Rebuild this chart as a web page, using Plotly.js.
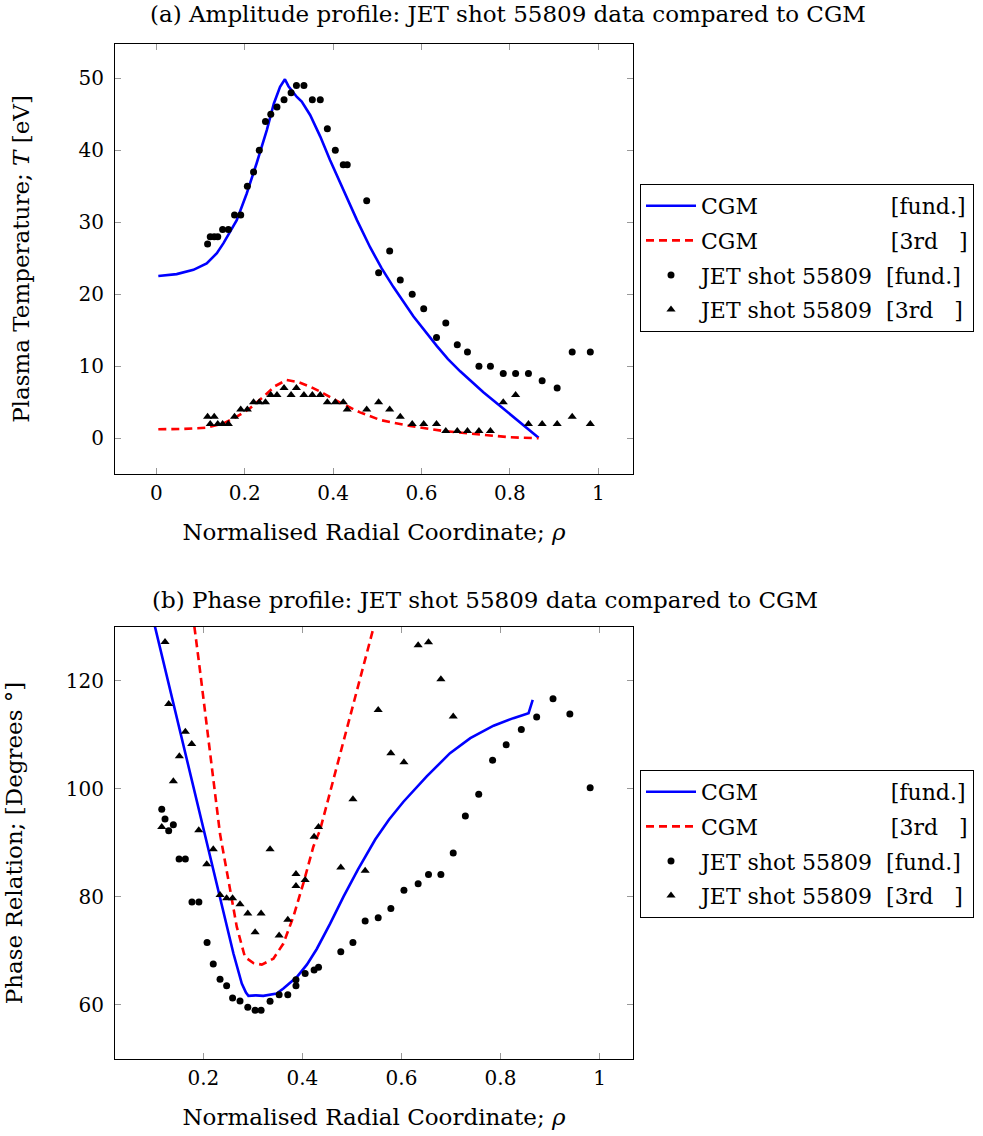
<!DOCTYPE html>
<html>
<head>
<meta charset="utf-8">
<script src="https://cdn.plot.ly/plotly-3.0.1.min.js"></script>
<style>
  html, body { margin: 0; padding: 0; background: #fff; }
  #chart { width: 983px; height: 1136px; }
</style>
</head>
<body>
<div id="chart"></div>
<script>
// ---------- (a) Amplitude profile ----------
const rhoTop = [0.116, 0.122, 0.131, 0.139, 0.150, 0.163, 0.177, 0.191, 0.206, 0.220,
  0.233, 0.247, 0.259, 0.273, 0.289, 0.305, 0.317, 0.334, 0.353, 0.371,
  0.387, 0.405, 0.423, 0.432, 0.476, 0.503, 0.528, 0.552, 0.579, 0.605,
  0.634, 0.655, 0.681, 0.704, 0.730, 0.756, 0.785, 0.813, 0.842, 0.873,
  0.907, 0.941, 0.982];
const tempFund = [27, 28, 28, 28, 29, 29, 31, 31, 35, 37,
  40, 44, 45, 46, 47, 48, 49, 49, 47, 47,
  43, 40, 38, 38, 33, 23, 26, 22, 20, 18,
  14, 16, 13, 12, 10, 10, 9, 9, 9, 8,
  7, 12, 12];
const temp3rd = [3, 2, 3, 2, 2, 2, 3, 4, 4, 5,
  5, 5, 6, 6, 7, 6, 7, 6, 6, 6,
  5, 5, 5, 4, 4, 5, 4, 3, 2, 2,
  2, 1, 1, 1, 1, 1, 5, 6, 2, 2,
  2, 3, 2];
const cgmAmpFundX = [0.0045, 0.046, 0.084, 0.114, 0.137, 0.152, 0.182, 0.2046, 0.227, 0.25,
  0.266, 0.280, 0.291, 0.299, 0.318, 0.329, 0.348, 0.371, 0.393, 0.423,
  0.454, 0.484, 0.51, 0.5366, 0.582, 0.635, 0.66, 0.6876, 0.714, 0.740,
  0.7856, 0.823, 0.865];
const cgmAmpFundY = [22.54, 22.8, 23.4, 24.3, 25.7, 27.1, 30.3, 34.0, 38.2, 42.8,
  46.5, 48.8, 49.86, 48.9, 47.4, 46.75, 44.9, 41.9, 38.65, 34.5,
  30.3, 26.5, 23.6, 21.0, 16.9, 12.8, 11.0, 9.3, 7.8, 6.4,
  4.1, 2.2, 0.08];
const cgmAmp3X = [0.0045, 0.06, 0.114, 0.152, 0.182, 0.212, 0.2425, 0.269, 0.295, 0.3215,
  0.348, 0.378, 0.416, 0.461, 0.5066, 0.5744, 0.65, 0.725, 0.80, 0.865];
const cgmAmp3Y = [1.25, 1.3, 1.47, 2.08, 3.0, 4.17, 5.78, 7.26, 8.1, 7.8,
  7.17, 6.25, 4.95, 3.6, 2.54, 1.71, 1.01, 0.55, 0.14, 0.0];

// ---------- (b) Phase profile ----------
const rhoPhaseFund = [0.116, 0.1226, 0.130, 0.1394, 0.151, 0.1636, 0.177, 0.191, 0.2075, 0.220,
  0.2337, 0.247, 0.259, 0.274, 0.2897, 0.3045, 0.3166, 0.3347, 0.353, 0.3705,
  0.387, 0.387, 0.4055, 0.4236, 0.4325, 0.4775, 0.502, 0.5267, 0.553, 0.5786,
  0.605, 0.6337, 0.6546, 0.6796, 0.7045, 0.729, 0.756, 0.784, 0.8115, 0.842,
  0.873, 0.906, 0.940, 0.981];
const phaseFund = [96.2, 94.4, 92.2, 93.35, 87.0, 87.0, 79.0, 79.0, 71.5, 67.5,
  64.7, 63.5, 61.2, 60.67, 59.5, 58.94, 58.94, 60.6, 61.8, 61.8,
  63.5, 64.6, 65.75, 66.4, 66.9, 69.77, 71.5, 75.5, 76.1, 77.8,
  81.2, 82.4, 84.1, 84.1, 88.1, 94.97, 99.0, 105.3, 108.15, 111.0,
  113.3, 116.7, 113.85, 100.2];
const rhoPhase3rd = [0.116, 0.1226, 0.130, 0.1394, 0.1515, 0.1636, 0.1765, 0.1907, 0.2068, 0.220,
  0.2337, 0.247, 0.259, 0.274, 0.2897, 0.3045, 0.3166, 0.3347, 0.353, 0.3705,
  0.387, 0.387, 0.4055, 0.4236, 0.4325, 0.4775, 0.502, 0.5267, 0.553, 0.5786,
  0.605, 0.6337, 0.6546, 0.6796, 0.7045];
const phase3rd = [92.9, 127.2, 115.7, 101.4, 106.05, 110.6, 108.3, 92.3, 86.0, 88.8,
  80.3, 79.7, 79.7, 78.6, 76.9, 73.4, 76.9, 88.8, 72.8, 75.7,
  82.0, 84.2, 83.1, 91.1, 92.9, 85.4, 98.07, 84.8, 114.6, 106.6,
  104.9, 126.6, 127.15, 120.3, 113.4];
const cgmPhaseFundX = [0.095, 0.1024, 0.2, 0.2337, 0.2606, 0.2776, 0.286, 0.291, 0.306, 0.321,
  0.348, 0.3616, 0.3887, 0.409, 0.429, 0.456, 0.483, 0.512, 0.547, 0.575,
  0.604, 0.651, 0.698, 0.739, 0.786, 0.826, 0.8566, 0.865];
const cgmPhaseFundY = [132.85, 130.0, 92.4, 80.0, 69.5, 63.9, 62.2, 61.6, 61.7, 61.6,
  62.04, 62.97, 65.1, 67.4, 70.3, 75.0, 80.0, 85.0, 90.6, 94.3,
  97.6, 102.3, 106.6, 109.4, 111.7, 113.1, 114.0, 116.5];
const cgmPhase3X = [0.178, 0.182, 0.193, 0.2135, 0.2245, 0.2337, 0.2505, 0.2675, 0.284, 0.301,
  0.318, 0.3414, 0.3616, 0.3818, 0.402, 0.4222, 0.4358, 0.489, 0.5434, 0.548];
const cgmPhase3Y = [132.5, 130.0, 122.1, 106.6, 98.2, 91.6, 83.1, 74.4, 68.8, 67.7,
  67.4, 68.5, 71.3, 76.3, 82.5, 89.3, 92.4, 110.9, 129.8, 131.4];

const xTicksTop = [0, 0.2, 0.4, 0.6, 0.8, 1];
const xTickTextTop = ['0', '0.2', '0.4', '0.6', '0.8', '1'];
const yTicksTop = [0, 10, 20, 30, 40, 50];
const xTicksBot = [0.2, 0.4, 0.6, 0.8, 1];
const xTickTextBot = ['0.2', '0.4', '0.6', '0.8', '1'];
const yTicksBot = [60, 80, 100, 120];

const NB = '\u00A0';
const pad = n => NB.repeat(n);
const nameCgmFund = 'CGM' + pad(19) + '[fund.]';
const nameCgm3 = 'CGM' + pad(19) + '[3rd' + pad(3) + ']';
const nameJetFund = 'JET shot 55809' + pad(2) + '[fund.]';
const nameJet3 = 'JET shot 55809' + pad(2) + '[3rd' + pad(3) + ']';

const FONT = "'DejaVu Serif', serif";
const BLUE = '#0000ff', RED = '#ff0000';

function traces(xa, ya, leg, d) {
  return [
    { x: d[0], y: d[1], xaxis: xa, yaxis: ya, legend: leg, mode: 'lines', name: nameCgmFund,
      legendgroup: leg + 'a', line: { color: BLUE, width: 2.6 } },
    { x: d[2], y: d[3], xaxis: xa, yaxis: ya, legend: leg, mode: 'lines', name: nameCgm3,
      legendgroup: leg + 'b', line: { color: RED, width: 2.6, dash: '8px,5px' } },
    { x: d[4], y: d[5], xaxis: xa, yaxis: ya, legend: leg, mode: 'markers', name: nameJetFund,
      legendgroup: leg + 'c', marker: { color: '#000', size: 7, symbol: 'circle' } },
    { x: d[6], y: d[7], xaxis: xa, yaxis: ya, legend: leg, mode: 'markers', name: nameJet3,
      legendgroup: leg + 'd', marker: { color: '#000', size: 8, symbol: 'triangle-up' } }
  ];
}

const data = [].concat(
  traces('x', 'y', 'legend', [cgmAmpFundX, cgmAmpFundY, cgmAmp3X, cgmAmp3Y, rhoTop, tempFund, rhoTop, temp3rd]),
  traces('x2', 'y2', 'legend2', [cgmPhaseFundX, cgmPhaseFundY, cgmPhase3X, cgmPhase3Y, rhoPhaseFund, phaseFund, rhoPhase3rd, phase3rd])
);

const TICKFONT = { size: 20, color: '#000', family: FONT };
const TXT = 23;
const LEGFONT = 22;
const axisCommon = {
  showline: true, linecolor: '#000', linewidth: 1, mirror: 'allticks',
  ticks: 'inside', ticklen: 6, tickcolor: '#999', tickwidth: 1,
  showgrid: false, zeroline: false, tickfont: TICKFONT
};

const W = 983, H = 1136;
const layout = {
  width: W, height: H,
  margin: { l: 0, r: 0, t: 0, b: 0, autoexpand: false },
  paper_bgcolor: '#fff', plot_bgcolor: '#fff',
  font: { family: FONT, size: TXT, color: '#000' },
  showlegend: true,
  title: { text: '(a) Amplitude profile: JET shot 55809 data compared to CGM',
    x: 150 / W, xanchor: 'left', y: 1 - 14 / H, yanchor: 'middle', yref: 'paper',
    font: { size: TXT, family: FONT, color: '#000' } },
  xaxis: Object.assign({}, axisCommon, {
    domain: [115 / W, 633 / W], range: [-0.0935, 1.0786], anchor: 'y',
    tickvals: xTicksTop, ticktext: xTickTextTop, ticklabelstandoff: 1,
    title: { text: 'Normalised Radial Coordinate; <i>ρ</i>', font: { size: TXT, family: FONT }, standoff: 19 }
  }),
  yaxis: Object.assign({}, axisCommon, {
    domain: [1 - 474 / H, 1 - 44 / H], range: [-4.96, 54.76], anchor: 'x',
    tickvals: yTicksTop, ticklabelstandoff: 6,
    title: { text: 'Plasma Temperature; <i>T</i> [eV]', font: { size: TXT, family: FONT }, standoff: 42 }
  }),
  xaxis2: Object.assign({}, axisCommon, {
    domain: [115 / W, 633 / W], range: [0.0216, 1.0675], anchor: 'y2',
    tickvals: xTicksBot, ticktext: xTickTextBot, ticklabelstandoff: 1,
    title: { text: 'Normalised Radial Coordinate; <i>ρ</i>', font: { size: TXT, family: FONT }, standoff: 19 }
  }),
  yaxis2: Object.assign({}, axisCommon, {
    domain: [1 - 1059 / H, 1 - 627 / H], range: [49.9, 130.0], anchor: 'x2',
    tickvals: yTicksBot, ticklabelstandoff: 6,
    title: { text: 'Phase Relation; [Degrees °]', font: { size: TXT, family: FONT }, standoff: 36 }
  }),
  legend: {
    x: 640 / W, xanchor: 'left', y: 1 - 184 / H, yanchor: 'top',
    bordercolor: '#000', borderwidth: 1, bgcolor: '#fff',
    font: { size: LEGFONT, family: FONT, color: '#000' },
    traceorder: 'grouped', tracegroupgap: 3, itemwidth: 50
  },
  legend2: {
    x: 640 / W, xanchor: 'left', y: 1 - 770 / H, yanchor: 'top',
    bordercolor: '#000', borderwidth: 1, bgcolor: '#fff',
    font: { size: LEGFONT, family: FONT, color: '#000' },
    traceorder: 'grouped', tracegroupgap: 3, itemwidth: 50
  },
  annotations: [{
    text: '(b) Phase profile: JET shot 55809 data compared to CGM',
    xref: 'paper', yref: 'paper', x: 150 / W, y: 1 - 600 / H,
    xanchor: 'left', yanchor: 'middle', showarrow: false,
    font: { size: TXT, family: FONT, color: '#000' }
  }]
};

Plotly.newPlot('chart', data, layout, { displayModeBar: false, staticPlot: true });
</script>
</body>
</html>
